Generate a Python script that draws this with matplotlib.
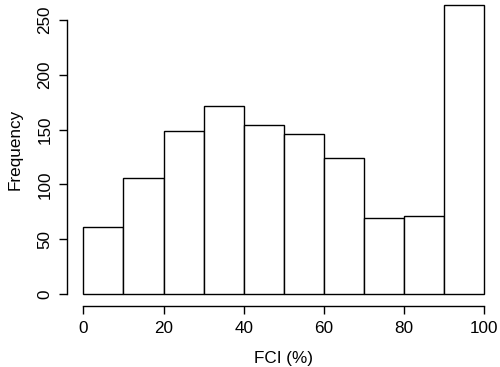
import matplotlib
matplotlib.use("Agg")
import matplotlib.pyplot as plt
import numpy as np

# histogram bins (FCI %) and counts
bin_edges = [0, 10, 20, 30, 40, 50, 60, 70, 80, 90, 100]
counts = [61, 106, 149, 172, 154, 146, 124, 69, 71, 264]
x_ticks = [0, 20, 40, 60, 80, 100]
y_ticks = [0, 50, 100, 150, 200, 250]

plt.rcParams['font.family'] = ['Liberation Sans', 'DejaVu Sans']
plt.rcParams['font.size'] = 12.3

fig = plt.figure(figsize=(5, 3.67), dpi=100)
W, H = 500, 367
# plot region placed in pixel units, R style (4% padding on both axes)
left, right = 67.3, 500.4
bottom, top = 305.6, -6.9
ax = fig.add_axes([left / W, 1 - bottom / H, (right - left) / W, (bottom - top) / H])
ax.patch.set_visible(False)

edges = np.array(bin_edges)
ax.bar(edges[:-1], counts, width=np.diff(edges), align='edge',
       facecolor='white', edgecolor='black', linewidth=1.0)

xr = edges[-1] - edges[0]
yr = max(counts)
ax.set_xlim(edges[0] - 0.04 * xr, edges[-1] + 0.04 * xr)
ax.set_ylim(-0.04 * yr, yr * 1.04)

for s in ['top', 'right']:
    ax.spines[s].set_visible(False)
ax.spines['left'].set_bounds(y_ticks[0], y_ticks[-1])
ax.spines['bottom'].set_bounds(x_ticks[0], x_ticks[-1])
for s in ['left', 'bottom']:
    ax.spines[s].set_linewidth(1.0)

ax.set_xticks(x_ticks)
ax.set_yticks(y_ticks)
ax.set_yticklabels([str(v) for v in y_ticks], rotation=90, va='center')
ax.tick_params(axis='both', length=5.8, width=1.0, color='black')
ax.tick_params(axis='x', pad=5.5)
ax.tick_params(axis='y', pad=5)

ax.set_xlabel('FCI (%)', labelpad=10.5)
ax.set_ylabel('Frequency', labelpad=10.5)

fig.savefig('out.png', dpi=100)
